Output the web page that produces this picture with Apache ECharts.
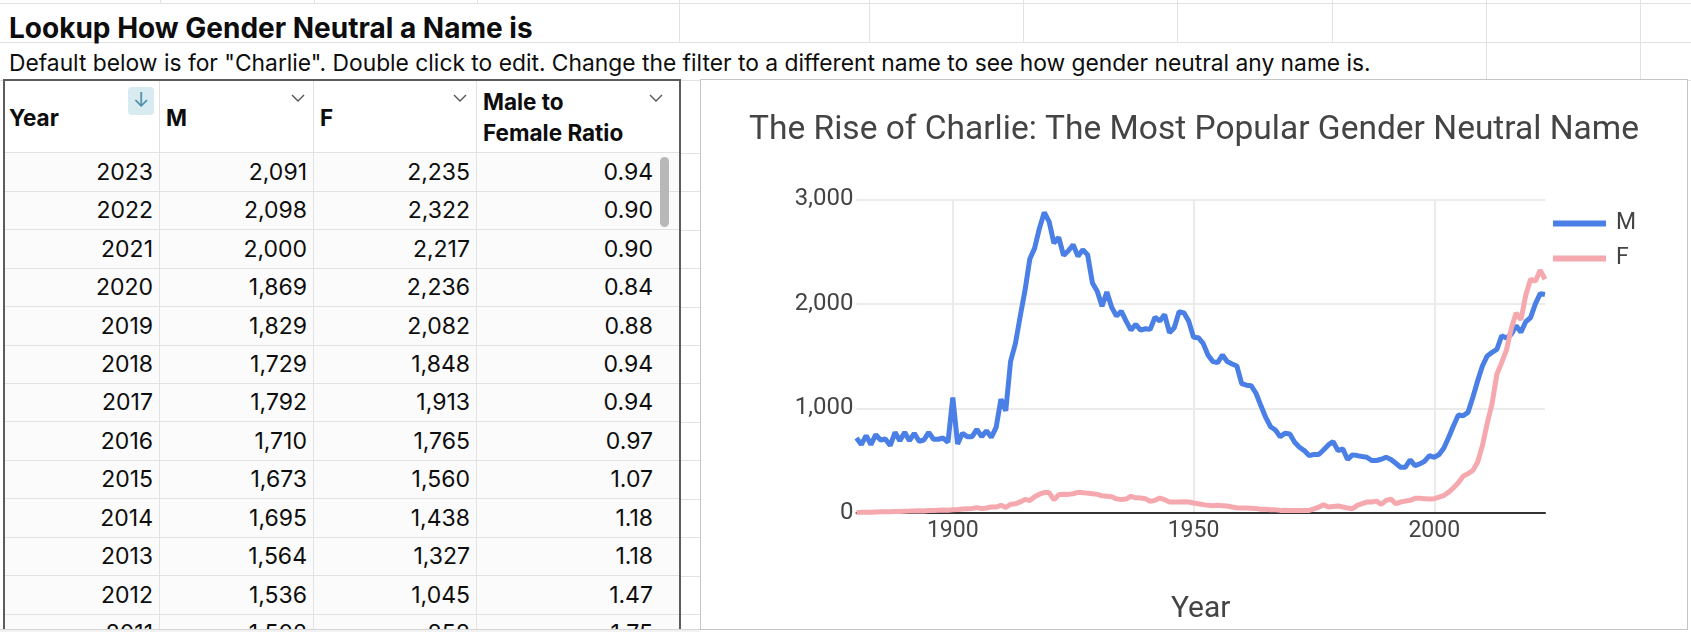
<!DOCTYPE html>
<html><head><meta charset="utf-8">
<script src="https://cdn.jsdelivr.net/npm/echarts@6/dist/echarts.min.js"></script>
<style>
html,body{margin:0;padding:0;width:1691px;height:632px;overflow:hidden;background:#fff;font-family:Inter,"Noto Sans",sans-serif;color:#0d0d0d;}
.a{position:absolute;}
.hl{position:absolute;height:1px;background:#e2e2e2;}
.vl{position:absolute;width:1px;background:#e2e2e2;}
.txt{position:absolute;white-space:nowrap;line-height:1;}
.hd{font-weight:700;font-size:22.5px;}
.cell{position:absolute;white-space:nowrap;font-size:23px;text-align:right;line-height:38px;}
#chart{position:absolute;left:700px;top:79px;width:988px;height:551px;box-sizing:border-box;border:1px solid #c4c4c4;background:#fff;}
</style></head>
<body>
<div id="sheet"></div>
<div id="chart"></div>
<script>
// ---------- data ----------
const startYear = 1880;
const maleCounts = [
  717,654,740,654,749,698,708,644,771,692,
  771,692,762,686,698,771,705,705,717,676,
  1105,660,762,730,730,800,730,787,724,819,
  1089,978,1450,1620,1880,2130,2430,2533,2724,2875,
  2787,2581,2635,2463,2508,2565,2454,2517,2470,2200,
  2121,1978,2114,1968,1883,1930,1835,1749,1803,1749,
  1762,1756,1873,1835,1898,1724,1771,1924,1914,1835,
  1680,1676,1622,1511,1448,1438,1511,1448,1425,1406,
  1238,1222,1216,1143,1025,914,825,794,730,762,
  756,676,629,597,549,559,559,603,651,683,
  597,613,511,556,549,540,533,502,502,514,
  533,511,476,438,438,508,454,470,495,549,
  533,559,622,724,835,937,930,962,1105,1263,
  1406,1502,1536,1564,1695,1673,1710,1792,1729,1829,
  1869,2000,2098,2091
];
const femaleCounts = [
  5,6,8,8,10,11,12,13,15,14,
  17,18,20,21,20,24,25,27,28,26,
  32,33,38,41,44,51,42,48,58,57,
  74,52,84,88,106,130,120,155,180,195,
  195,125,175,180,178,184,198,194,190,184,
  178,165,160,155,135,130,133,160,145,143,
  137,111,121,143,127,105,105,105,108,105,
  95,89,80,73,70,73,70,67,57,51,
  48,48,46,44,35,35,32,30,25,26,
  25,25,25,24,25,40,55,79,57,63,
  67,57,48,41,73,89,105,105,114,83,
  121,133,89,105,114,121,140,140,137,133,
  137,152,168,200,241,289,352,375,406,486,
  644,858,1045,1327,1438,1560,1765,1913,1848,2082,
  2236,2217,2322,2235
];
const years = maleCounts.map((_, i) => String(startYear + i));
const tableYears = [2023,2022,2021,2020,2019,2018,2017,2016,2015,2014,2013,2012,2011];
const tableRatio = ['0.94','0.90','0.90','0.84','0.88','0.94','0.94','0.97','1.07','1.18','1.18','1.47','1.75'];
const yTicks = [0, 1000, 2000, 3000];
const xLabelYears = ['1900','1950','2000'];

// ---------- spreadsheet ----------
const sheet = document.getElementById('sheet');
function add(html){ sheet.insertAdjacentHTML('beforeend', html); }
[3, 42, 80].forEach(y => add(`<div class="hl" style="left:0;top:${y}px;width:1691px"></div>`));
[160,314,477,679,869,1023,1177,1332,1486,1640].forEach(x => add(`<div class="vl" style="left:${x}px;top:0;height:3px"></div>`));
[679,869,1023,1177,1332,1486,1640].forEach(x => add(`<div class="vl" style="left:${x}px;top:3px;height:39px"></div>`));
[1486,1640].forEach(x => add(`<div class="vl" style="left:${x}px;top:42px;height:38px"></div>`));
add(`<div class="txt" style="left:9px;top:14px;font-weight:700;font-size:28px;">Lookup How Gender Neutral a Name is</div>`);
add(`<div class="txt" style="left:9px;top:52px;font-size:22.8px;">Default below is for "Charlie". Double click to edit. Change the filter to a different name to see how gender neutral any name is.</div>`);
for (let k = 0; k < 13; k++) {
  const y = 152.7 + k * 38.45;
  add(`<div class="hl" style="left:681px;top:${y}px;width:19px"></div>`);
}
add(`<div class="a" style="left:3px;top:79px;width:678px;height:560px;box-sizing:border-box;border:2px solid #5c5c5c;border-bottom:none;background:#fbfbfb;"></div>`);
add(`<div class="a" style="left:5px;top:81px;width:674px;height:71px;background:#fff;"></div>`);
[159,313,476].forEach(x => add(`<div class="vl" style="left:${x}px;top:81px;height:560px"></div>`));
add(`<div class="hl" style="left:5px;top:152px;width:674px"></div>`);
add(`<div class="txt hd" style="left:9px;top:106.5px;">Year</div>`);
add(`<div class="txt hd" style="left:166px;top:106.5px;">M</div>`);
add(`<div class="txt hd" style="left:320px;top:106.5px;">F</div>`);
add(`<div class="txt hd" style="left:483px;top:91px;">Male to</div>`);
add(`<div class="txt hd" style="left:483px;top:121.5px;">Female Ratio</div>`);
add(`<div class="a" style="left:128px;top:87px;width:26px;height:28px;background:#d8ebf1;border-radius:4px;color:#4a8ea6;font-size:20px;text-align:center;line-height:26px;">↓</div>`);
[298,460,656].forEach(x => add(`<svg class="a" style="left:${x-7}px;top:94px" width="14" height="9"><polyline points="1,1 7,7 13,1" fill="none" stroke="#555" stroke-width="1.4"/></svg>`));
let rowsHtml = '<div class="a" style="left:5px;top:152px;width:674px;height:477px;overflow:hidden;">';
tableYears.forEach((yr, k) => {
  const i = yr - startYear;
  const top = 0.7 + k * 38.45;
  rowsHtml += `<div class="hl" style="left:0;top:${top+38}px;width:674px"></div>`;
  rowsHtml += `<div class="cell" style="left:0;top:${top}px;width:148px">${yr}</div>`;
  rowsHtml += `<div class="cell" style="left:154px;top:${top}px;width:148px">${maleCounts[i].toLocaleString('en-US')}</div>`;
  rowsHtml += `<div class="cell" style="left:308px;top:${top}px;width:157px">${femaleCounts[i].toLocaleString('en-US')}</div>`;
  rowsHtml += `<div class="cell" style="left:471px;top:${top}px;width:177px">${tableRatio[k]}</div>`;
});
rowsHtml += '</div>';
add(rowsHtml);
add(`<div class="a" style="left:660px;top:157px;width:9px;height:70px;background:#b8b8b8;border-radius:5px;"></div>`);
add(`<div class="a" style="left:0;top:629px;width:700px;height:3px;background:#f2f2f2;border-top:1px solid #d6d6d6;"></div>`);

// ---------- chart ----------
const chart = echarts.init(document.getElementById('chart'), null, {renderer: 'canvas'});
const labelEvery = (idx, val) => xLabelYears.indexOf(String(val)) >= 0;
chart.setOption({
  animation: false,
  backgroundColor: '#fff',
  title: {
    text: 'The Rise of Charlie: The Most Popular Gender Neutral Name',
    left: 'center', top: 29,
    textStyle: {fontFamily: 'Roboto', fontSize: 33.5, fontWeight: 'normal', color: '#444'}
  },
  legend: {
    orient: 'vertical', left: 847, top: 127, padding: 5,
    icon: 'rect', itemWidth: 53, itemHeight: 6, itemGap: 12,
    textStyle: {fontFamily: 'Roboto', fontSize: 23, color: '#444', padding: [0,0,0,5]},
    data: ['M', 'F']
  },
  grid: {left: 155.5, right: 142, top: 119.3, bottom: 114.7, containLabel: false},
  xAxis: {
    type: 'category', data: years, boundaryGap: false,
    name: 'Year', nameLocation: 'middle', nameGap: 81,
    nameTextStyle: {fontFamily: 'Roboto', fontSize: 30, color: '#444'},
    axisLine: {show: true, lineStyle: {color: '#333', width: 2}},
    axisTick: {show: false, interval: labelEvery},
    axisLabel: {interval: labelEvery, fontFamily: 'Roboto', fontSize: 23, color: '#444', margin: 7},
    splitLine: {show: true, interval: labelEvery, lineStyle: {color: '#ebebeb', width: 2}}
  },
  yAxis: {
    type: 'value', min: yTicks[0], max: yTicks[yTicks.length-1], interval: 1000,
    axisLine: {show: false}, axisTick: {show: false},
    axisLabel: {fontFamily: 'Roboto', fontSize: 24, color: '#444', margin: 3,
      formatter: v => v.toLocaleString('en-US')},
    splitLine: {show: true, lineStyle: {color: '#ebebeb', width: 2}}
  },
  series: [
    {name: 'M', type: 'line', data: maleCounts, showSymbol: false, color: '#4a7fe6',
     lineStyle: {width: 5, color: '#4a7fe6'}, itemStyle: {color: '#4a7fe6'}},
    {name: 'F', type: 'line', data: femaleCounts, showSymbol: false, color: '#f6a8af',
     lineStyle: {width: 5, color: '#f6a8af'}, itemStyle: {color: '#f6a8af'}}
  ]
});
</script>
</body></html>
